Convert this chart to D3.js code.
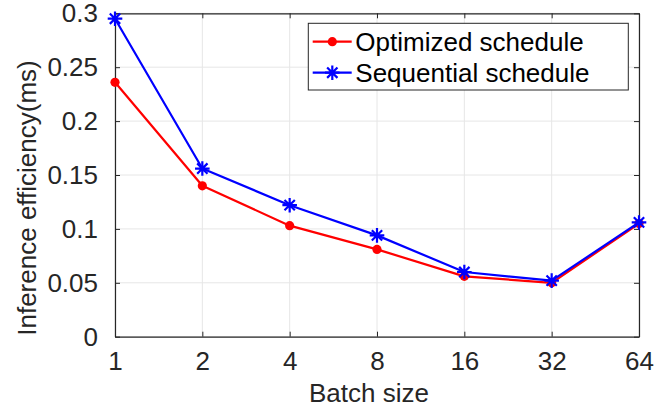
<!DOCTYPE html>
<html>
<head>
<meta charset="utf-8">
<script src="https://cdn.jsdelivr.net/npm/d3@7"></script>
<style>
  body { margin: 0; background: #fff; }
  svg { display: block; }
</style>
</head>
<body>
<div id="wrapper"></div>
<script>
const batchSizes = ['1', '2', '4', '8', '16', '32', '64']
const optimized = [0.236, 0.140, 0.103, 0.081, 0.056, 0.050, 0.105]
const sequential = [0.295, 0.156, 0.122, 0.094, 0.060, 0.052, 0.106]
const yTicks = [0, 0.05, 0.1, 0.15, 0.2, 0.25, 0.3]

const seriesList = [
  { name: 'Optimized schedule', values: optimized, color: '#ff0000', marker: 'dot' },
  { name: 'Sequential schedule', values: sequential, color: '#0000ff', marker: 'star' },
]

function drawChart() {
  const dimensions = {
    width: 672,
    height: 408,
    margin: { top: 13.3, right: 33, bottom: 71.3, left: 115 },
  }
  dimensions.boundedWidth = dimensions.width - dimensions.margin.left - dimensions.margin.right
  dimensions.boundedHeight = dimensions.height - dimensions.margin.top - dimensions.margin.bottom

  const axisColor = '#262626'
  const font = '"Liberation Sans", Arial, Helvetica, sans-serif'

  const wrapper = d3.select('#wrapper')
    .append('svg')
    .attr('width', dimensions.width)
    .attr('height', dimensions.height)
    .style('font-family', font)

  const bounds = wrapper.append('g')
    .attr('transform', `translate(${dimensions.margin.left},${dimensions.margin.top})`)

  const xScale = d3.scalePoint()
    .domain(batchSizes)
    .range([0, dimensions.boundedWidth])

  const yScale = d3.scaleLinear()
    .domain([0, 0.3])
    .range([dimensions.boundedHeight, 0])

  // grid
  bounds.append('g')
    .selectAll('line')
    .data(batchSizes)
    .join('line')
    .attr('x1', d => xScale(d))
    .attr('x2', d => xScale(d))
    .attr('y1', 0)
    .attr('y2', dimensions.boundedHeight)
    .attr('stroke', '#e6e6e6')
    .attr('stroke-width', 1)

  bounds.append('g')
    .selectAll('line')
    .data(yTicks)
    .join('line')
    .attr('x1', 0)
    .attr('x2', dimensions.boundedWidth)
    .attr('y1', d => yScale(d))
    .attr('y2', d => yScale(d))
    .attr('stroke', '#e6e6e6')
    .attr('stroke-width', 1)

  // axes (inward ticks on all four sides, MATLAB style)
  const styleAxis = g => {
    g.select('.domain').attr('stroke', axisColor).attr('stroke-width', 1.2)
    g.selectAll('.tick line').attr('stroke', axisColor).attr('stroke-width', 1)
    g.selectAll('.tick text')
      .attr('fill', axisColor)
      .attr('font-size', 26)
      .attr('font-family', font)
  }

  const xAxis = bounds.append('g')
    .attr('transform', `translate(0,${dimensions.boundedHeight})`)
    .call(d3.axisBottom(xScale).tickSizeInner(-5).tickSizeOuter(0).tickPadding(15))
    .call(styleAxis)
  xAxis.selectAll('.tick text').attr('dy', '0.71em').attr('y', 15)

  bounds.append('g')
    .call(d3.axisTop(xScale).tickSizeInner(-5).tickSizeOuter(0).tickFormat(''))
    .call(styleAxis)

  bounds.append('g')
    .call(d3.axisLeft(yScale).tickValues(yTicks).tickSizeInner(-5).tickSizeOuter(0)
      .tickPadding(17).tickFormat(d3.format('')))
    .call(styleAxis)

  bounds.append('g')
    .attr('transform', `translate(${dimensions.boundedWidth},0)`)
    .call(d3.axisRight(yScale).tickValues(yTicks).tickSizeInner(-5).tickSizeOuter(0).tickFormat(''))
    .call(styleAxis)

  // lines and markers
  const lineGenerator = d3.line()
    .x((d, i) => xScale(batchSizes[i]))
    .y(d => yScale(d))

  const starPath = r => {
    const k = r * Math.SQRT1_2
    return `M${-r},0L${r},0M0,${-r}L0,${r}M${-k},${-k}L${k},${k}M${-k},${k}L${k},${-k}`
  }

  const drawMarker = (g, s) => {
    if (s.marker === 'dot') {
      g.append('circle').attr('r', 4.6).attr('fill', s.color)
    } else {
      g.append('path').attr('d', starPath(7.3)).attr('stroke', s.color)
        .attr('stroke-width', 2.2).attr('fill', 'none')
    }
  }

  seriesList.forEach(s => {
    bounds.append('path')
      .datum(s.values)
      .attr('d', lineGenerator)
      .attr('fill', 'none')
      .attr('stroke', s.color)
      .attr('stroke-width', 2.2)
      .attr('stroke-linejoin', 'round')

    bounds.append('g')
      .selectAll('g')
      .data(s.values)
      .join('g')
      .attr('transform', (d, i) => `translate(${xScale(batchSizes[i])},${yScale(d)})`)
      .each(function () { drawMarker(d3.select(this), s) })
  })

  // legend
  const legend = wrapper.append('g')
    .attr('transform', 'translate(308.3,23.3)')

  legend.append('rect')
    .attr('width', 320)
    .attr('height', 66.7)
    .attr('fill', '#fff')
    .attr('stroke', axisColor)
    .attr('stroke-width', 1)

  seriesList.forEach((s, i) => {
    const row = legend.append('g')
      .attr('transform', `translate(0,${18.4 + i * 31})`)
    row.append('line')
      .attr('x1', 4.4).attr('x2', 43.4)
      .attr('stroke', s.color).attr('stroke-width', 2.2)
    drawMarker(row.append('g').attr('transform', 'translate(24,0)'), s)
    row.append('text')
      .attr('x', 47)
      .attr('dy', '0.35em')
      .attr('font-size', 26)
      .attr('fill', '#000')
      .text(s.name)
  })

  // axis labels
  wrapper.append('text')
    .attr('x', 369)
    .attr('y', 401.5)
    .attr('text-anchor', 'middle')
    .attr('font-size', 26)
    .attr('fill', axisColor)
    .text('Batch size')

  wrapper.append('text')
    .attr('transform', 'translate(36,198) rotate(-90)')
    .attr('text-anchor', 'middle')
    .attr('font-size', 26)
    .attr('fill', axisColor)
    .text('Inference efficiency(ms)')

  // caption, mostly cut off by the image edge
  wrapper.append('text')
    .attr('x', 214)
    .attr('y', 423.5)
    .attr('font-size', 24)
    .attr('font-style', 'italic')
    .attr('font-family', '"Liberation Serif", "DejaVu Serif", serif')
    .attr('fill', '#000')
    .attr('textLength', 426)
    .text('Figure 5: Inference Efficiency for different batch sizes')
}

drawChart()
</script>
</body>
</html>
